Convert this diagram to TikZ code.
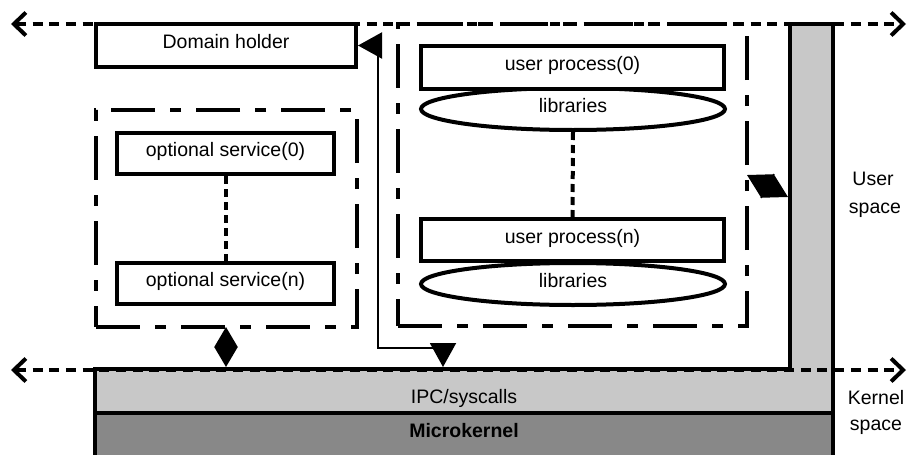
\documentclass[tikz,border=0pt]{standalone}
\usepackage{fontspec}
\setmainfont{Liberation Sans}
\usetikzlibrary{arrows.meta,shapes.geometric}
\definecolor{ipcgray}{RGB}{200,200,200}
\definecolor{kerngray}{RGB}{136,136,136}
\tikzset{
  lbl/.style={font=\fontsize{19.5}{23}\selectfont, inner sep=0pt},
  compbox/.style={lbl, draw, line width=4pt, fill=white, rectangle,
    text height=13pt, text depth=7pt},
  libell/.style={lbl, draw, line width=4pt, fill=white, ellipse,
    minimum width=304pt, minimum height=42pt, text height=13pt, text depth=7pt},
  grpbox/.style={draw, line width=4pt, rectangle, inner sep=0pt, outer sep=0pt,
    dash pattern=on 44pt off 15pt on 11pt off 15pt},
  spaceline/.style={line width=4pt, dash pattern=on 10pt off 6.7pt,
    >={Straight Barb[length=12pt,width=23pt]}, <->},
  dotlink/.style={line width=4pt, dash pattern=on 8pt off 5pt},
  ipclink/.style={line width=2pt, line join=miter,
    >={Triangle[length=24pt,width=26pt]}, <->},
  duplex/.style={line width=2pt, line join=miter,
    >={Triangle[length=20pt,width=23pt]}, <->},
  sidelink/.style={line width=2pt, line join=miter,
    >={Triangle[length=24pt,width=27pt]}, <->},
  kernelline/.style={line width=4pt, line join=miter},
}
\begin{document}
\begin{tikzpicture}[x=1pt,y=-1pt]
\useasboundingbox (0,0) rectangle (911,455);

% kernel layers: IPC band with the vertical bar, and the microkernel
\fill[ipcgray] (95,369) -- (790,369) -- (790,24) -- (833,24) -- (833,413) -- (95,413) -- cycle;
\fill[kerngray] (95,413) rectangle (833,460);

% user/kernel space boundaries
\coordinate (topL) at (11,24);
\coordinate (topR) at (906,24);
\coordinate (botL) at (11,370);
\coordinate (botR) at (906,370);
\draw[spaceline] (topL) -- (topR);
\draw[spaceline] (botL) -- (botR);

% outlines of the kernel layers
\draw[kernelline] (95,460) -- (95,369) -- (790,369) -- (790,24) -- (833,24) -- (833,460);
\draw[kernelline] (95,413) -- (833,413);
\node[lbl, anchor=base] (ipc) at (464,403) {IPC/syscalls};
\node[lbl, anchor=base, font=\fontsize{19.5}{23}\selectfont\bfseries] (mk) at (464,437) {Microkernel};

% domain holder
\node[compbox, minimum width=260pt, minimum height=43pt] (dh) at (226,45.5) {Domain holder};

% optional services
\node[grpbox, minimum width=261pt, minimum height=217pt] (svcgrp) at (226.5,218.5) {};
\node[compbox, minimum width=217pt, minimum height=41pt] (svc0) at (225.5,153.5) {optional service(0)};
\node[compbox, minimum width=217pt, minimum height=41pt] (svcn) at (225.5,283.5) {optional service(n)};
\draw[dotlink] (svc0.south) -- (svcn.north);

% user processes
\node[grpbox, minimum width=349pt, minimum height=302pt] (usrgrp) at (572.5,175) {};
\node[libell] (lib0) at (573,109) {libraries};
\node[compbox, minimum width=303pt, minimum height=43pt] (up0) at (572.5,67.5) {user process(0)};
\node[libell] (libn) at (573,284) {libraries};
\node[compbox, minimum width=303pt, minimum height=42pt] (upn) at (572.5,240) {user process(n)};
\draw[dotlink] (lib0.south) -- (upn.north);

% communication paths
\coordinate (bendA) at (378,348);
\coordinate (ipcA) at (443,367);
\draw[ipclink] (dh.east) -| (bendA) -| (ipcA);
\coordinate (ipcB) at (226,367);
\draw[duplex] (svcgrp.south -| ipcB) -- (ipcB);
\coordinate (barW) at (788,197);
\draw[sidelink] (usrgrp.east) -- (barW);

% space labels
\node[lbl, anchor=base] (us1) at (873,185) {User};
\node[lbl, anchor=base] (us2) at (875,213) {space};
\node[lbl, anchor=base] (ks1) at (876,404) {Kernel};
\node[lbl, anchor=base] (ks2) at (876,430) {space};
\end{tikzpicture}
\end{document}
